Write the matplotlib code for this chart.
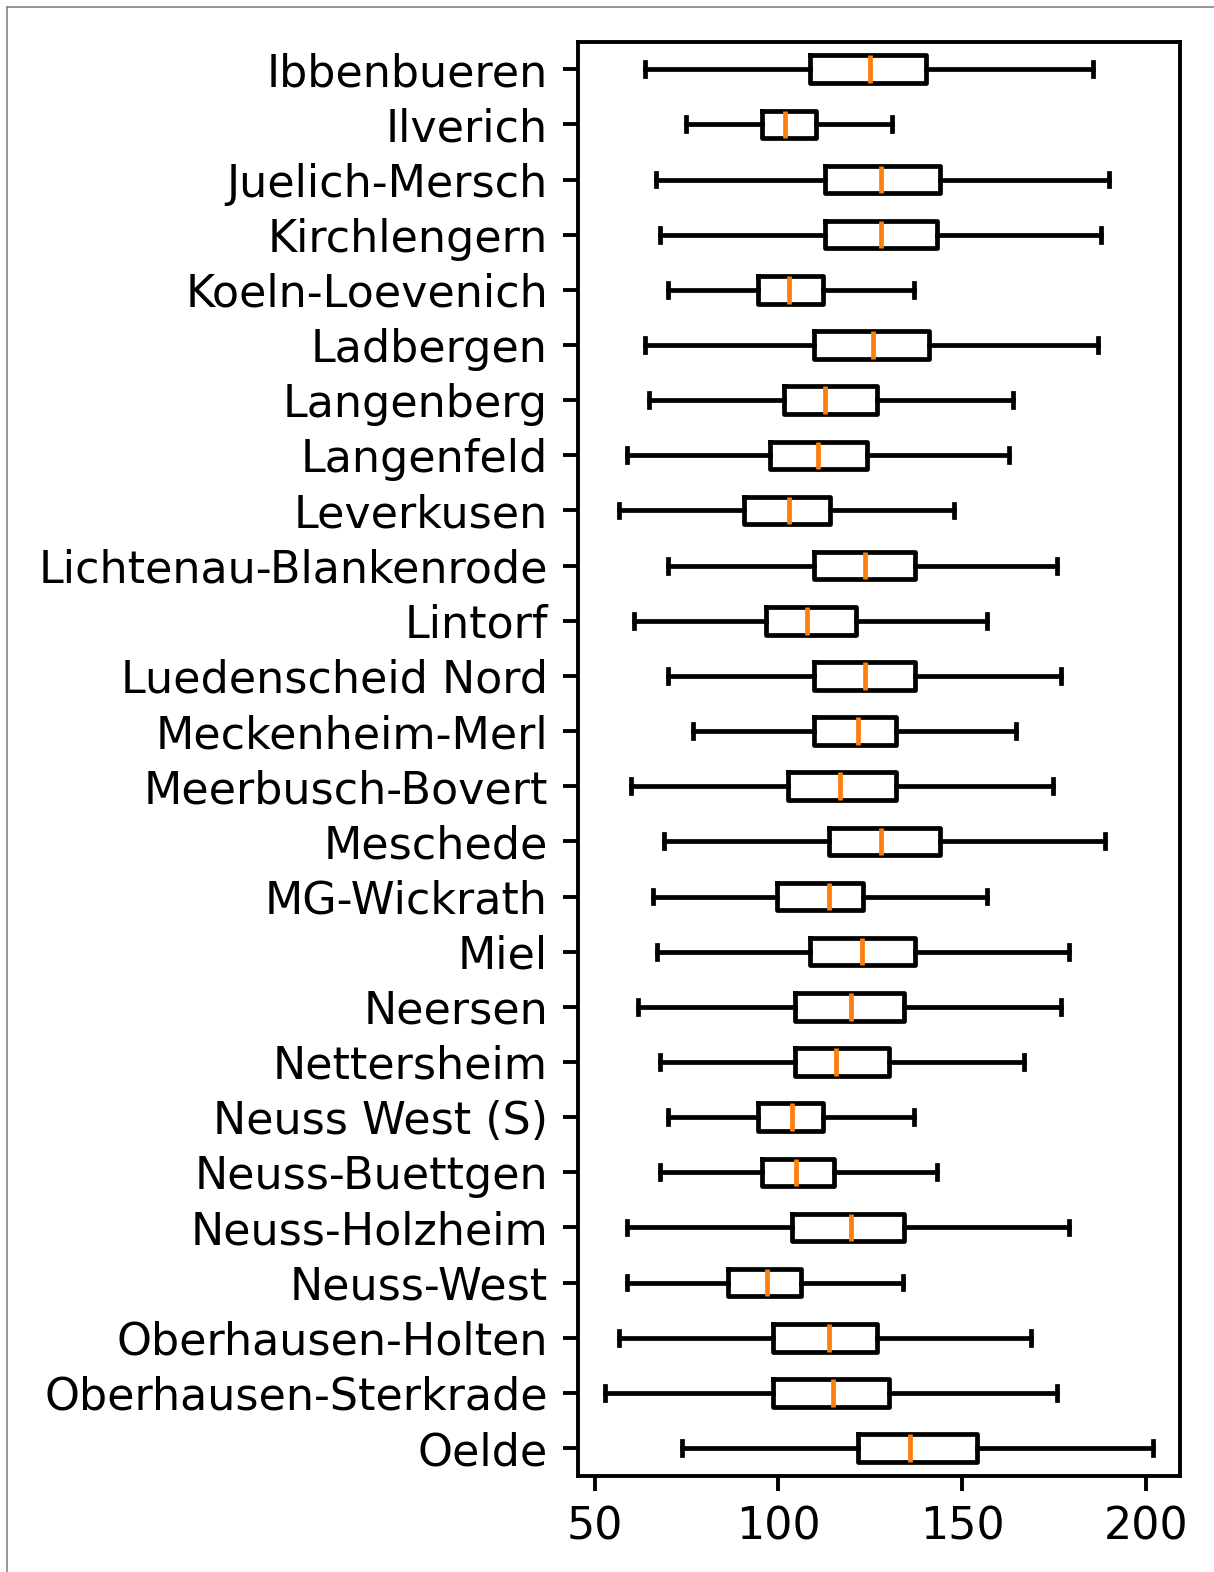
import matplotlib
matplotlib.use("Agg")
import matplotlib.pyplot as plt
from matplotlib.lines import Line2D

# Station names, top to bottom
stations = [
    "Ibbenbueren", "Ilverich", "Juelich-Mersch", "Kirchlengern", "Koeln-Loevenich",
    "Ladbergen", "Langenberg", "Langenfeld", "Leverkusen", "Lichtenau-Blankenrode",
    "Lintorf", "Luedenscheid Nord", "Meckenheim-Merl", "Meerbusch-Bovert", "Meschede",
    "MG-Wickrath", "Miel", "Neersen", "Nettersheim", "Neuss West (S)",
    "Neuss-Buettgen", "Neuss-Holzheim", "Neuss-West", "Oberhausen-Holten",
    "Oberhausen-Sterkrade", "Oelde",
]

# Five-number summaries per station
whisker_low = [63.7, 74.8, 66.7, 67.8, 69.8,
               63.7, 64.8, 58.7, 56.7, 69.8,
               60.7, 69.8, 76.8, 59.8, 68.8,
               65.8, 66.8, 61.8, 67.8, 69.8,
               67.8, 58.7, 58.7, 56.7, 52.9, 73.8]
q1 = [108.6, 95.4, 112.6, 112.6, 94.5,
      109.6, 101.6, 97.6, 90.5, 109.6,
      96.5, 109.6, 109.6, 102.7, 113.7,
      99.6, 108.6, 104.6, 104.6, 94.5,
      95.5, 103.6, 86.4, 98.6, 98.6, 121.7]
median = [124.8, 101.8, 127.8, 127.8, 102.8,
          125.7, 112.8, 110.8, 102.8, 123.7,
          107.8, 123.7, 121.8, 116.8, 127.8,
          113.8, 122.7, 119.7, 115.8, 103.8,
          104.8, 119.7, 96.8, 113.8, 114.8, 135.7]
q3 = [140.2, 110.1, 144.1, 143.2, 112.1,
      141.1, 126.9, 124.1, 114.0, 137.1,
      121.0, 137.1, 132.1, 132.1, 144.1,
      122.9, 137.1, 134.1, 130.1, 112.1,
      115.1, 134.1, 106.1, 126.9, 130.1, 154.1]
whisker_high = [185.7, 130.8, 189.9, 187.9, 136.9,
                186.9, 163.8, 162.8, 147.9, 175.8,
                156.8, 177.0, 164.8, 174.9, 188.8,
                156.8, 179.0, 177.0, 166.8, 136.9,
                143.1, 179.0, 133.9, 168.8, 175.8, 201.9]

plt.rcParams["font.size"] = 10.3

DPI = 310
fig = plt.figure(figsize=(1214 / DPI, 1572 / DPI), dpi=DPI)
ax = fig.add_axes([0.4762, 0.0613, 0.9720 - 0.4762, 0.9735 - 0.0613])

stats = []
for name, lo, a, m, b, hi in zip(stations, whisker_low, q1, median, q3, whisker_high):
    stats.append(dict(label=name, whislo=lo, q1=a, med=m, q3=b, whishi=hi, fliers=[]))

positions = list(range(1, len(stations) + 1))
line_kw = dict(linewidth=1.1, color="black")
ax.bxp(stats, positions=positions, orientation="horizontal", widths=0.5,
       showfliers=False,
       boxprops=line_kw, whiskerprops=line_kw, capprops=line_kw,
       medianprops=dict(linewidth=1.1, color="#ff7f0e"))
ax.set_ylim(len(stations) + 0.5, 0.5)
ax.set_xticks([50, 100, 150, 200])
for side in ax.spines.values():
    side.set_linewidth(0.9)
ax.tick_params(width=0.9)

# thin frame along the top and left edges of the image
fig.add_artist(Line2D([7 / 1214, 1.0], [1 - 7.3 / 1572, 1 - 7.3 / 1572],
                      transform=fig.transFigure, color="#7a7a7a", lw=0.35))
fig.add_artist(Line2D([7 / 1214, 7 / 1214], [0.0, 1 - 7.3 / 1572],
                      transform=fig.transFigure, color="#7a7a7a", lw=0.35))

fig.savefig("out.png", dpi=DPI)
